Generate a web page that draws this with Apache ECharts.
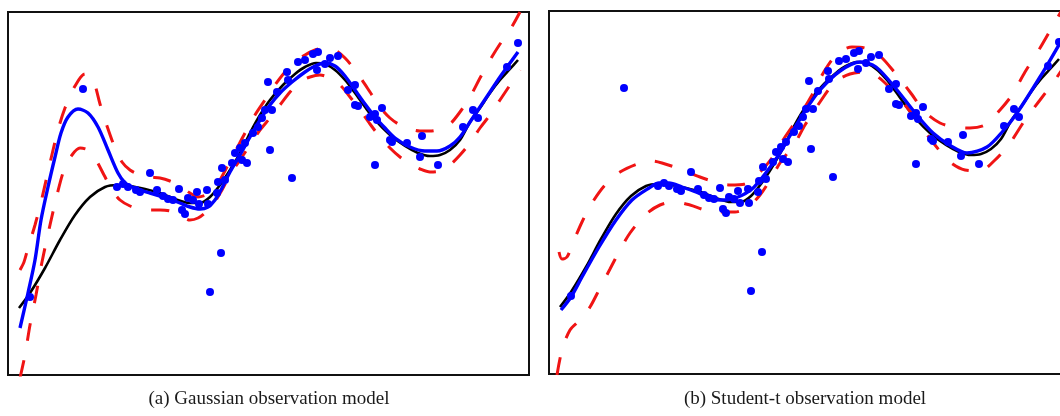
<!DOCTYPE html>
<html>
<head>
<meta charset="utf-8">
<script src="https://cdn.jsdelivr.net/npm/echarts@6/dist/echarts.min.js"></script>
<style>
html,body{margin:0;padding:0;background:#fff;}
#chart{width:1060px;height:416px;}
</style>
</head>
<body>
<div id="chart"></div>
<script>
// Observations (shared by both panels)
const observations = [
  [2.2,7.8],[7.5,28.6],[10.9,18.8],[11.5,19.1],[12.0,18.8],[12.8,18.5],[13.2,18.3],[14.2,20.2],
  [14.9,18.5],[15.5,17.9],[16.0,17.6],[16.5,17.5],[17.1,18.6],[17.4,16.5],[17.7,16.1],[18.0,17.7],
  [18.5,17.5],[18.9,18.3],[19.1,17.1],[19.9,18.5],[20.0,17.1],[20.2,8.3],[20.9,18.2],[21.0,19.3],
  [21.3,12.2],[21.4,20.7],[21.7,19.5],[22.4,21.2],[22.7,22.2],[23.2,22.7],[23.4,21.5],[23.7,23.2],
  [23.9,21.2],[24.5,24.2],[25.0,24.8],[25.4,25.7],[25.7,26.5],[26.0,29.3],[26.2,22.5],[26.4,26.5],
  [26.9,28.3],[27.9,30.3],[28.0,29.5],[28.4,19.7],[29.0,31.3],[29.7,31.5],[30.5,32.1],[31.0,32.3],
  [30.9,30.5],[31.7,31.1],[32.2,31.7],[33.0,31.9],[34.0,28.5],[34.7,29.0],[34.7,27.0],[35.0,26.9],
  [36.2,25.8],[36.7,26.1],[37.4,26.7],[36.9,25.5],[36.7,21.0],[38.2,23.5],[38.4,23.3],[39.9,23.2],
  [41.4,23.9],[41.2,21.8],[43.0,21.0],[45.5,24.8],[46.5,26.5],[47.0,25.7],[49.9,30.8],[51.0,33.2]
];

// True underlying function (black)
const trueFunction = [
  [1.1,6.7],[2.2,8.2],[3.7,10.7],[5.2,13.5],[6.7,16.0],[8.2,17.8],[9.7,18.8],[10.9,19.0],
  [12.2,18.9],[13.7,18.6],[15.2,18.2],[16.7,17.6],[18.2,17.2],[19.2,17.2],[20.2,17.8],[21.2,19.0],
  [22.2,20.5],[23.2,22.2],[24.2,24.2],[25.2,26.0],[26.2,27.5],[27.5,29.0],[28.7,30.1],[29.7,30.8],
  [30.8,31.2],[31.7,31.1],[32.7,30.5],[33.7,29.5],[34.7,28.2],[35.7,26.8],[36.7,25.5],[38.2,24.0],
  [39.7,22.9],[41.0,22.2],[42.2,21.9],[43.2,22.0],[44.2,22.5],[45.2,23.5],[46.2,25.3],[47.2,26.7],
  [48.2,28.2],[49.2,29.5],[50.2,30.6],[51.0,31.5]
];

// (a) Gaussian model: predictive mean and band
const gaussMean = [
  [1.2,4.7],[2.0,8.2],[2.7,11.5],[3.3,15.5],[4.0,18.8],[4.7,21.8],[5.3,24.2],[6.0,25.8],
  [7.0,26.6],[8.0,26.2],[9.0,24.8],[10.0,22.5],[11.0,20.2],[11.7,19.2],[12.2,18.9],[13.2,18.5],
  [14.2,18.2],[15.2,17.9],[16.2,17.6],[17.2,17.2],[18.2,16.8],[19.2,16.6],[20.0,16.8],[20.7,17.5],
  [21.4,18.7],[22.2,20.3],[23.2,22.0],[24.2,23.8],[25.2,25.5],[26.2,27.0],[27.2,28.2],[28.4,29.3],
  [29.7,30.3],[30.7,30.9],[31.7,31.2],[32.7,30.9],[33.7,29.9],[34.7,28.5],[35.7,27.1],[36.7,25.8],
  [37.7,24.7],[38.7,23.7],[40.2,22.8],[41.7,22.4],[42.9,22.4],[44.2,22.9],[45.2,23.8],[46.2,25.3],
  [47.2,26.8],[48.2,28.3],[49.2,29.8],[50.2,31.2],[51.0,32.3]
];
const gaussUpper = [
  [1.2,10.5],[1.6,11.3],[2.0,12.7],[2.7,15.0],[3.4,17.7],[4.2,21.2],[5.0,24.5],[5.7,26.7],
  [6.7,28.9],[7.7,30.1],[8.5,29.5],[9.2,27.1],[9.9,24.9],[10.7,22.7],[11.4,21.3],[12.2,20.5],
  [13.2,20.0],[14.2,19.8],[15.2,19.7],[16.2,19.4],[17.2,18.9],[18.2,18.2],[19.0,17.8],[19.8,18.0],
  [20.5,18.5],[21.2,19.5],[22.0,21.0],[22.8,22.5],[23.7,24.2],[24.7,26.0],[25.7,27.5],[26.7,29.0],
  [27.7,30.3],[28.7,31.3],[29.7,32.0],[30.7,32.5],[31.7,32.7],[32.7,32.5],[33.7,31.7],[34.7,30.5],
  [35.4,29.5],[36.2,28.3],[37.2,26.8],[38.2,25.7],[39.2,25.0],[40.2,24.6],[41.2,24.4],[42.2,24.4],
  [43.2,24.6],[44.2,25.1],[45.2,26.3],[46.2,27.8],[47.2,29.7],[48.2,31.5],[49.2,33.1],[50.2,34.5],
  [51.2,36.3]
];
const gaussLower = [
  [1.2,-0.3],[1.7,2.0],[2.2,5.0],[2.8,8.0],[3.4,11.3],[4.2,15.0],[4.9,18.0],[5.6,20.5],
  [6.4,22.0],[7.2,22.7],[8.0,22.5],[8.8,21.5],[9.6,20.0],[10.4,18.5],[11.2,17.5],[12.2,16.9],
  [13.2,16.6],[14.2,16.5],[15.2,16.5],[16.2,16.4],[17.2,16.0],[18.2,15.5],[19.0,15.7],[19.8,16.3],
  [20.6,17.2],[21.4,18.5],[22.2,20.0],[23.2,21.5],[24.2,23.0],[25.2,24.5],[26.2,25.7],[27.2,27.0],
  [28.2,28.3],[29.2,29.3],[30.2,29.8],[31.2,30.0],[32.2,29.7],[33.2,29.0],[34.2,27.8],[35.2,26.5],
  [36.2,25.1],[37.2,23.8],[38.2,22.7],[39.2,21.8],[40.2,21.1],[41.2,20.6],[42.2,20.3],[43.2,20.4],
  [44.2,21.0],[45.2,22.0],[46.2,23.2],[47.2,24.7],[48.2,26.0],[49.2,27.5],[50.2,29.0],[51.2,30.5]
];

// (b) Student-t model: predictive mean and band
const studentMean = [
  [1.2,6.4],[2.2,7.7],[3.3,9.7],[5.0,12.7],[6.7,15.4],[8.3,17.4],[10.0,18.6],[11.0,19.1],
  [12.0,19.1],[13.3,18.7],[14.7,18.2],[16.3,17.5],[17.6,17.4],[18.9,17.7],[20.3,18.5],[21.6,20.0],
  [22.9,21.8],[24.2,24.0],[25.6,26.3],[27.1,28.4],[29.1,30.3],[31.1,31.2],[32.7,30.7],[34.8,28.4],
  [36.7,26.0],[38.4,24.1],[40.2,22.8],[41.8,22.1],[43.8,22.7],[45.4,24.3],[46.8,26.1],[49.1,29.7],
  [51.1,33.1]
];
const studentUpper = [
  [1.0,12.2],[1.3,11.5],[1.8,11.7],[2.3,12.9],[3.3,15.2],[4.3,17.1],[5.6,18.9],[7.1,20.2],
  [9.1,21.1],[10.3,21.3],[11.3,21.1],[13.1,20.5],[15.1,19.7],[16.6,19.2],[18.1,18.9],[19.6,19.0],
  [21.1,20.2],[22.3,21.6],[23.6,23.7],[25.1,25.9],[26.3,27.9],[27.6,30.4],[28.9,32.1],[30.3,32.7],
  [31.6,32.6],[33.1,31.8],[34.6,30.1],[36.1,28.2],[37.6,26.2],[39.1,25.1],[40.6,24.7],[42.1,24.6],
  [43.6,24.9],[45.1,26.4],[46.3,27.9],[47.6,30.2],[49.1,32.6],[50.6,35.2],[51.6,36.9]
];
const studentLower = [
  [0.8,-0.1],[1.3,2.4],[2.1,4.4],[3.1,5.4],[4.1,6.7],[5.1,8.6],[6.1,10.5],[7.1,12.4],
  [8.1,14.1],[9.6,15.9],[11.1,16.9],[12.6,17.2],[14.1,16.9],[15.6,16.4],[17.1,16.2],[18.6,16.2],
  [19.9,16.7],[21.1,17.9],[22.1,19.4],[23.1,21.1],[24.6,23.1],[25.6,24.9],[27.1,27.2],[28.6,29.2],
  [30.1,30.0],[31.6,30.2],[32.9,29.7],[34.1,28.6],[35.6,26.9],[37.1,24.9],[38.6,22.9],[40.1,21.2],
  [41.6,20.4],[43.1,20.3],[44.6,21.4],[46.1,23.1],[47.6,25.4],[49.1,27.4],[50.6,29.4],[51.6,30.9]
];

const captions = ['(a) Gaussian observation model', '(b) Student-t observation model'];

const Y_MAX = 36.3;
const X_MAX = [52.1, 51.2];   // panel (b) is cut off by the right edge of the figure
const RED = '#f01414', BLUE = '#0000ff';

function axisX(i){ return {type:'value', gridIndex:i, min:0, max:X_MAX[i], show:false}; }
function axisY(i){ return {type:'value', gridIndex:i, min:0, max:Y_MAX, show:false}; }

function panelSeries(i, mean, upper, lower){
  const base = {xAxisIndex:i, yAxisIndex:i, silent:true};
  return [
    Object.assign({type:'line', data:trueFunction, smooth:0.3, showSymbol:false,
      lineStyle:{color:'#000', width:2.6}, z:2}, base),
    Object.assign({type:'line', data:upper, smooth:0.3, showSymbol:false,
      lineStyle:{color:RED, width:3, type:[18,20]}, z:3}, base),
    Object.assign({type:'line', data:lower, smooth:0.3, showSymbol:false,
      lineStyle:{color:RED, width:3, type:[18,20]}, z:3}, base),
    Object.assign({type:'line', data:mean, smooth:0.3, showSymbol:false,
      lineStyle:{color:BLUE, width:3.4}, z:4}, base),
    Object.assign({type:'scatter', data:observations, symbolSize:8,
      itemStyle:{color:BLUE, opacity:1}, z:5}, base)
  ];
}

const chart = echarts.init(document.getElementById('chart'));
chart.setOption({
  animation:false,
  backgroundColor:'#fff',
  grid:[
    {left:8, top:12, width:521, height:363, show:true, borderColor:'#111', borderWidth:2, backgroundColor:'transparent', outerBoundsMode:'none'},
    {left:549, top:11, width:512, height:363, show:true, borderColor:'#111', borderWidth:2, backgroundColor:'transparent', outerBoundsMode:'none'}
  ],
  xAxis:[axisX(0), axisX(1)],
  yAxis:[axisY(0), axisY(1)],
  series:[].concat(
    panelSeries(0, gaussMean, gaussUpper, gaussLower),
    panelSeries(1, studentMean, studentUpper, studentLower)
  ),
  graphic:[
    {type:'text', x:269, y:399, silent:true, style:{text:captions[0], font:'19px "Liberation Serif"', fill:'#1a1a1a', align:'center', verticalAlign:'middle'}},
    {type:'text', x:805, y:399, silent:true, style:{text:captions[1], font:'19px "Liberation Serif"', fill:'#1a1a1a', align:'center', verticalAlign:'middle'}}
  ]
});
</script>
</body>
</html>
